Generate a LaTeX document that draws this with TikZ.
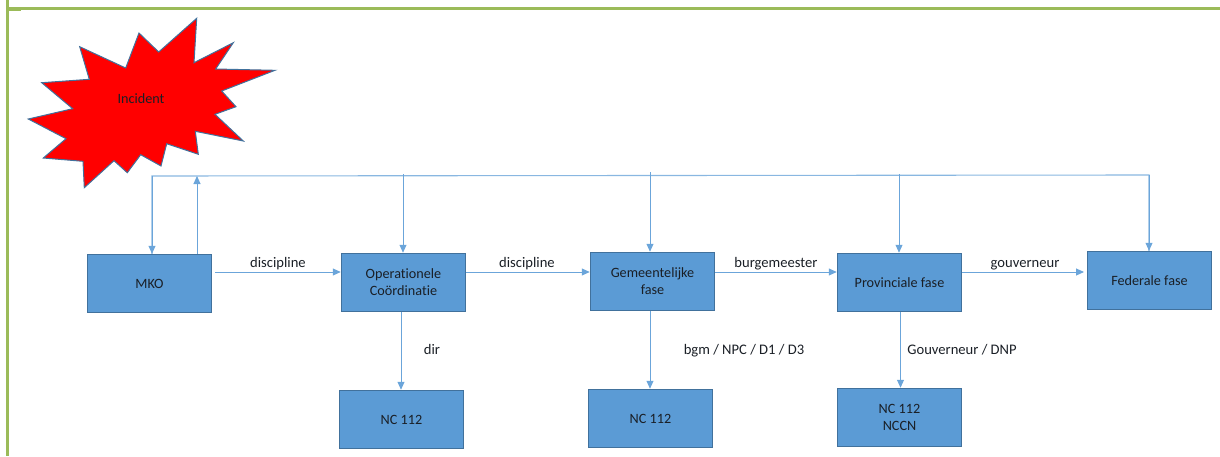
\documentclass[tikz,border=0pt]{standalone}
\usepackage{fontspec}
\setmainfont[Ligatures=NoCommon]{Carlito}
\usetikzlibrary{arrows.meta}
\definecolor{boxblue}{HTML}{5B9BD5}
\definecolor{boxedge}{HTML}{41719C}
\definecolor{flowblue}{HTML}{6BA5DA}
\definecolor{pagegreen}{HTML}{9BBB59}
\definecolor{textdark}{HTML}{1A1F26}
\tikzset{
  fase/.style={draw=boxedge,fill=boxblue,line width=1pt,minimum width=124.5pt,minimum height=58.5pt,
    inner sep=0pt,align=center,text=textdark,font=\fontsize{14.2}{17}\selectfont},
  flow/.style={draw=flowblue,line width=0.9pt,-{Triangle[length=8pt,width=7pt]}},
  bus/.style={draw=flowblue!80,line width=1.1pt},
  lbl/.style={inner sep=0pt,text height=10pt,text depth=3pt,text=textdark,font=\fontsize{14.6}{17}\selectfont}
}
\def\incident{%
    \filldraw [fill=red,draw=boxedge,line width=1pt,line join=miter]
      (196.7,18.3) -- (194,62.7) -- (233.3,42.7) -- (215.7,69) -- (275,70.3) -- (221.7,91)
      -- (236,106.7) -- (215,114.3) -- (243.3,141) -- (195.3,131.3) -- (198.3,154.3)
      -- (166.7,143.7) -- (161,166) -- (140.7,154.7) -- (127.3,172.7) -- (114,160.7)
      -- (84.3,187.7) -- (83,161.3) -- (43.3,158) -- (66,138.7) -- (28.3,119) -- (72.7,108.7)
      -- (41.7,82.7) -- (89.3,79.3) -- (79.7,46.7) -- (125.7,68) -- (139,33) -- (158.7,52) -- cycle;
}

\begin{document}
\begin{tikzpicture}[x=1pt,y=-1pt]
\useasboundingbox (0,0) rectangle (1220,456);
%page border
\fill[pagegreen] (6,0) rectangle (9,456);
\fill[pagegreen] (9,7) rectangle (1220,9.5);
\fill[pagegreen] (9,9.5) rectangle (21,10.5);
%star
\incident
\node[lbl,font=\fontsize{14.2}{17}\selectfont] (incident) at (141,100) {Incident};
%boxes
\foreach \name / \x / \y / \txt in {mko/149.5/283.5/MKO,
  oper/403.5/282.5/{Operationele\\Coördinatie},
  gem/652.5/281.5/{Gemeentelijke\\fase},
  prov/899.5/282.5/Provinciale fase,
  fed/1149.5/280.5/Federale fase,
  ncone/401.5/419.5/NC 112,
  nctwo/650.5/418.5/NC 112,
  ncthree/899.5/417.5/{NC 112\\NCCN}}
{
\node[fase] (\name) at (\x,\y) {\txt};
}
%bus
\coordinate (busleft) at (152,176);
\coordinate (busup) at (197,176);
\coordinate (busright) at (1149,175);
\coordinate (dropoper) at (403,174);
\coordinate (dropgem) at (650,172);
\coordinate (dropprov) at (899,174);
\draw[bus] (busleft |- mko.north) -- (busleft) -- (busright) -- (busright |- fed.north);
%p2
\draw[flow] (busleft) -- (busleft |- mko.north);
\draw[flow] (busup |- mko.north) -- (busup);
\draw[flow] (dropoper) -- (dropoper |- oper.north);
\draw[flow] (dropgem) -- (dropgem |- gem.north);
\draw[flow] (dropprov) -- (dropprov |- prov.north);
\draw[flow] (busright) -- (busright |- fed.north);
%rows
\coordinate (rowa) at (215,272);
\coordinate (rowb) at (1084,272);
\draw[flow] (rowa) -- (oper.west |- rowa);
\draw[flow] (oper.east |- rowa) -- (gem.west |- rowa);
\draw[flow] (gem.east |- rowa) -- (prov.west |- rowa);
\draw[flow] (prov.east |- rowa) -- (rowb);
%down
\coordinate (downa) at (401,0);
\coordinate (downb) at (650,0);
\coordinate (downc) at (900.5,0);
\draw[flow] (downa |- oper.south) -- (downa |- ncone.north);
\draw[flow] (downb |- gem.south) -- (downb |- nctwo.north);
\draw[flow] (downc |- prov.south) -- (downc |- ncthree.north);
%labels
\node[lbl] (labela) at (278,264) {discipline};
\node[lbl] (labelb) at (527,264) {discipline};
\node[lbl] (labelc) at (776,264) {burgemeester};
\node[lbl] (labeld) at (1025,264) {gouverneur};
\node[lbl] (labele) at (432,350.5) {dir};
\node[lbl] (labelf) at (744,350.5) {bgm / NPC / D1 / D3};
\node[lbl] (labelg) at (962,350.5) {Gouverneur / DNP};
\end{tikzpicture}
\end{document}
